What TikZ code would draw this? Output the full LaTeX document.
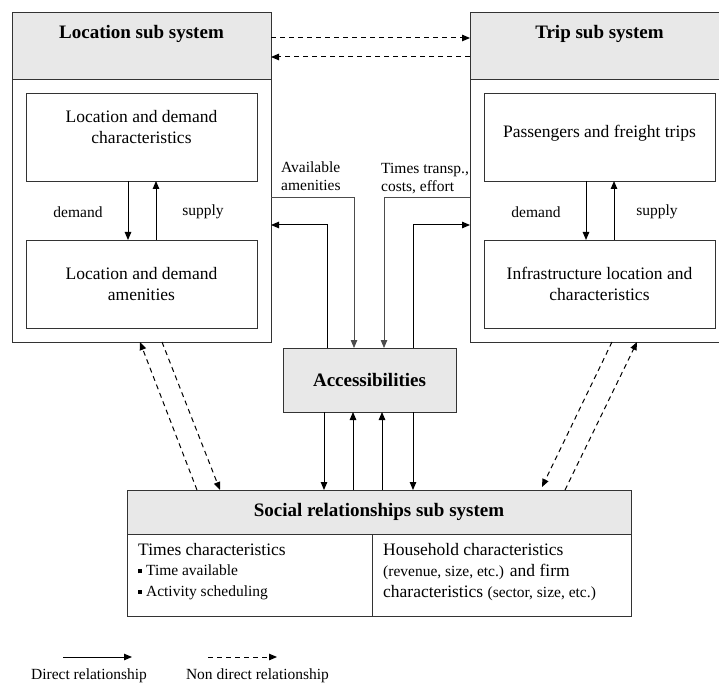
\documentclass[tikz,border=0pt]{standalone}
\usepackage{fontspec}
\setmainfont{Liberation Serif}
\usetikzlibrary{arrows.meta}

\begin{document}
\begin{tikzpicture}[x=1pt, y=-1pt,
    box/.style={draw=black!80, line width=0.9pt, inner sep=0pt, outer sep=0pt, anchor=north west},
    headbox/.style={box, fill=black!9},
    title/.style={font=\fontsize{19}{22}\selectfont\bfseries, inner sep=3pt},
    txt/.style={font=\fontsize{17.5}{21}\selectfont, align=center, inner sep=2pt},
    lbl/.style={font=\fontsize{15.5}{18}\selectfont, inner sep=1pt},
    dir/.style={draw=black, line width=1pt, -{Triangle[length=8pt,width=6.5pt]}},
    ndir/.style={dir, dash pattern=on 5pt off 4pt},
    link/.style={draw=black!70, line width=0.8pt}]
        \clip (0,0) rectangle (719,684);
        \useasboundingbox (0,0) rectangle (719,684);

        % location sub system
        \node[box, minimum width=259pt, minimum height=330pt] (loc) at (12,12) {};
        \node[headbox, minimum width=259pt, minimum height=67pt] (lochead) at (12,12) {};
        \node[title, anchor=north] (loctitle) at ([yshift=-10pt]lochead.north) {Location sub system};
        \node[box, minimum width=231pt, minimum height=88pt] (locdem) at (26,93) {};
        \node[txt] (locdemtxt) at ([yshift=10pt]locdem.center) {Location and demand\\characteristics};
        \node[box, minimum width=231pt, minimum height=88pt] (locam) at (26,240) {};
        \node[txt] (locamtxt) at (locam.center) {Location and demand\\amenities};
        \draw[dir] ([xshift=-13.5pt]locdem.south) -- ([xshift=-13.5pt]locam.north);
        \draw[dir] ([xshift=14.5pt]locam.north) -- ([xshift=14.5pt]locdem.south);
        \node[lbl] (locdemand) at (78,212) {demand};
        \node[lbl] (locsupply) at (203,212) {supply};

        % trip sub system
        \node[box, minimum width=259pt, minimum height=330pt] (trip) at (470,12) {};
        \node[headbox, minimum width=259pt, minimum height=67pt] (triphead) at (470,12) {};
        \node[title, anchor=north] (triptitle) at ([yshift=-10pt]triphead.north) {Trip sub system};
        \node[box, minimum width=231pt, minimum height=88pt] (tripfr) at (484,93) {};
        \node[txt] (tripfrtxt) at ([yshift=4pt]tripfr.center) {Passengers and freight trips};
        \node[box, minimum width=231pt, minimum height=88pt] (tripinf) at (484,240) {};
        \node[txt] (tripinftxt) at (tripinf.center) {Infrastructure location and\\characteristics};
        \draw[dir] ([xshift=-13.5pt]tripfr.south) -- ([xshift=-13.5pt]tripinf.north);
        \draw[dir] ([xshift=14.5pt]tripinf.north) -- ([xshift=14.5pt]tripfr.south);
        \node[lbl] (tripdemand) at (536,212) {demand};
        \node[lbl] (tripsupply) at (657,212) {supply};

        \draw[ndir] ([yshift=-26pt]loc.north east) -- ([yshift=-26pt]trip.north west);
        \draw[ndir] ([yshift=-45pt]trip.north west) -- ([yshift=-45pt]loc.north east);

        % accessibilities
        \node[headbox, minimum width=173pt, minimum height=64pt] (acc) at (283,348) {};
        \node[title] (acctitle) at (acc.center) {Accessibilities};

        \node[lbl, anchor=south west, align=left] (avail) at (280,192) {Available\\amenities};
        \node[lbl, anchor=south west, align=left] (times) at (380,195) {Times transp.,\\costs, effort};

        \draw[link, -{Triangle[length=8pt,width=6.5pt]}] ([yshift=-185pt]loc.north east) -| ([xshift=-15.5pt]acc.north);
        \draw[dir] ([xshift=-42.5pt]acc.north) |- ([yshift=-213pt]loc.north east);
        \draw[link, -{Triangle[length=8pt,width=6.5pt]}] ([yshift=-185pt]trip.north west) -| ([xshift=14.5pt]acc.north);
        \draw[dir] ([xshift=43.5pt]acc.north) |- ([yshift=-213pt]trip.north west);

        % social relationships sub system
        \node[box, minimum width=504pt, minimum height=126pt] (soc) at (127,490) {};
        \node[headbox, minimum width=504pt, minimum height=44pt] (sochead) at (127,490) {};
        \node[title] (soctitle) at (sochead.center) {Social relationships sub system};
        \draw[box] ([xshift=-7pt]sochead.south) -- ([xshift=-7pt]soc.south);

        \node[txt, anchor=north west, align=left, font=\fontsize{17.5}{20.5}\selectfont] (soctime) at (136,541)
            {Times characteristics\\
             {\fontsize{15.5}{20.5}\selectfont\raisebox{2.5pt}{\rule{4pt}{4pt}} Time available}\\
             {\fontsize{15.5}{20.5}\selectfont\raisebox{2.5pt}{\rule{4pt}{4pt}} Activity scheduling}};
        \node[txt, anchor=north west, align=left, font=\fontsize{17.5}{21}\selectfont] (sochouse) at (381,541)
            {Household characteristics\\
             {\fontsize{15.5}{21}\selectfont(revenue, size, etc.)} and firm\\
             characteristics {\fontsize{15.5}{21}\selectfont(sector, size, etc.)}};

        \draw[dir] ([xshift=-45.5pt]acc.south) -- ([xshift=-45.5pt]acc.south |- soc.north);
        \draw[dir] ([xshift=-16.5pt]acc.south |- soc.north) -- ([xshift=-16.5pt]acc.south);
        \draw[dir] ([xshift=12.5pt]acc.south |- soc.north) -- ([xshift=12.5pt]acc.south);
        \draw[dir] ([xshift=43.5pt]acc.south) -- ([xshift=43.5pt]acc.south |- soc.north);

        % non direct links to the social sub system
        \draw[ndir] ([xshift=70pt]soc.north west) -- ([xshift=128pt]loc.south west);
        \draw[ndir] ([xshift=150pt]loc.south west) -- ([xshift=93pt]soc.north west);
        \draw[ndir] ([xshift=142pt]trip.south west) -- ([xshift=-89pt,yshift=3pt]soc.north east);
        \draw[ndir] ([xshift=-66pt]soc.north east) -- ([xshift=167pt]trip.south west);

        % legend
        \node[lbl] (ldir) at (89,676) {Direct relationship};
        \node[lbl] (lndir) at (257.5,676) {Non direct relationship};
        \draw[dir] ([xshift=-26pt,yshift=19pt]ldir.center) -- ([xshift=43pt,yshift=19pt]ldir.center);
        \draw[ndir] ([xshift=-49.5pt,yshift=19pt]lndir.center) -- ([xshift=19.5pt,yshift=19pt]lndir.center);
      \end{tikzpicture}
\end{document}
